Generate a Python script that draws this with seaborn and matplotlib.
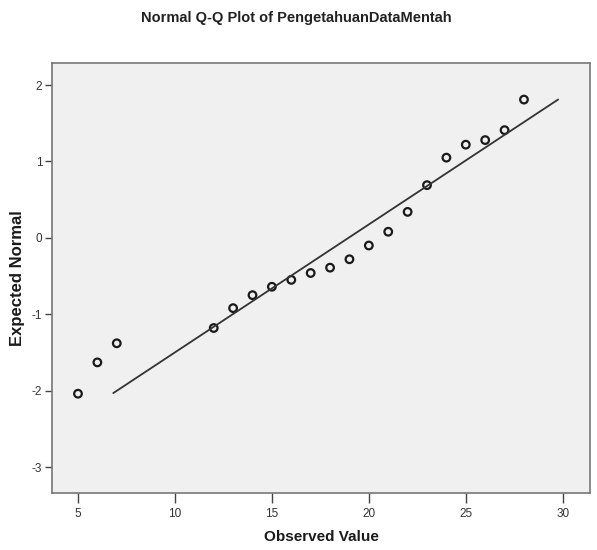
import matplotlib
matplotlib.use("Agg")
import matplotlib.pyplot as plt
import seaborn as sns
import numpy as np
import pandas as pd

observed = [5, 6, 7, 12, 13, 14, 15, 16, 17, 18, 19, 20, 21, 22, 23, 24, 25, 26, 27, 28]
expected = [-2.04, -1.63, -1.38, -1.18, -0.92, -0.75, -0.64, -0.55, -0.46, -0.39,
            -0.28, -0.10, 0.08, 0.34, 0.69, 1.05, 1.22, 1.28, 1.41, 1.81]
# Reference line (normal with mean/sd) drawn between these observed endpoints
line_x = [6.82, 29.76]
line_mean = 18.95
line_sd = 5.97

x_ticks = [5, 10, 15, 20, 25, 30]
y_ticks = [-3, -2, -1, 0, 1, 2]

sns.set_theme(style="white")
plt.rcParams['font.family'] = ['Liberation Sans', 'DejaVu Sans']
plt.rcParams['axes.unicode_minus'] = False

df = pd.DataFrame({"Observed Value": observed, "Expected Normal": expected})
line_df = pd.DataFrame({"x": line_x,
                        "y": [(v - line_mean) / line_sd for v in line_x]})

fig = plt.figure(figsize=(5.97, 5.5), dpi=100)
ax = fig.add_axes([0.0871, 0.1036, 0.901, 0.782])
ax.set_facecolor("#f0f0f0")

sns.lineplot(data=line_df, x="x", y="y", ax=ax, color="#333333", linewidth=1.3)
sns.scatterplot(data=df, x="Observed Value", y="Expected Normal", ax=ax,
                marker="o", s=30, facecolor="none", edgecolor="#1a1a1a", linewidth=1.6)

ax.set_xlim(3.66, 31.4)
ax.set_ylim(-3.34, 2.29)
ax.set_xticks(x_ticks)
ax.set_yticks(y_ticks)
ax.tick_params(axis="x", which="major", direction="out", length=7, width=1,
               color="#444444", labelsize=8.5, labelcolor="#333333", pad=4, bottom=True)
ax.tick_params(axis="y", which="major", direction="out", length=5, width=1,
               color="#444444", labelsize=8.5, labelcolor="#333333", pad=2, left=True)
for s in ax.spines.values():
    s.set_color("#777777")
    s.set_linewidth(1.2)

ax.set_xlabel("Observed Value", fontsize=11, fontweight="bold", color="#1a1a1a", labelpad=7)
ax.set_ylabel("Expected Normal", fontsize=12, fontweight="bold", color="#1a1a1a", labelpad=5)
fig.text(0.497, 0.968, "Normal Q-Q Plot of PengetahuanDataMentah", ha="center", va="center",
         fontsize=10.5, fontweight="bold", color="#222222")

fig.savefig("out.png", dpi=100, facecolor="white")
